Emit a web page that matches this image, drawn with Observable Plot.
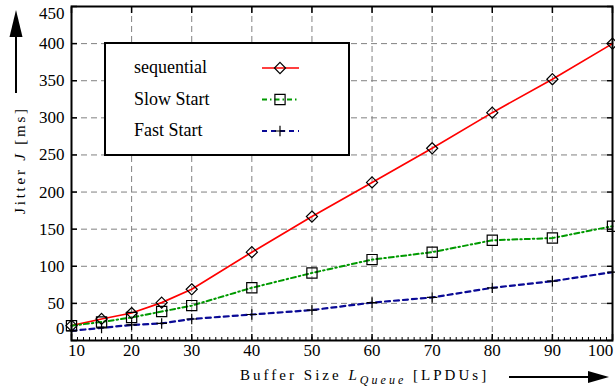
<!DOCTYPE html>
<html><head><meta charset="utf-8">
<script src="https://cdn.jsdelivr.net/npm/d3@7"></script>
<script src="https://cdn.jsdelivr.net/npm/@observablehq/plot@0.6"></script>
<style>html,body{margin:0;padding:0;background:#fff;}</style>
</head><body><div id="chart"></div>
<script>
// ---- data ----
const bufferSizes = [10, 15, 20, 25, 30, 40, 50, 60, 70, 80, 90, 100];
const sequential  = [20, 29, 37, 51, 69, 119, 167, 213, 259, 307, 352, 400];
const slowStart   = [20, 25, 31, 39, 47, 71, 91, 109, 119, 135, 138, 154];
const fastStart   = [13, 17, 21, 23, 29, 35, 41, 51, 58, 71, 80, 92];
const seriesNames = ["sequential", "Slow Start", "Fast Start"];
const xTicks = [10, 20, 30, 40, 50, 60, 70, 80, 90, 100];
const yTicks = [0, 50, 100, 150, 200, 250, 300, 350, 400, 450];
const xMinorTicks = d3.range(10, 101, 1);

// ---- styles ----
const styles = {
  "sequential": {stroke: "#ff0000", dash: null, width: 1.7, symbol: "diamond2", r: 5},
  "Slow Start": {stroke: "#009a00", dash: "5,3,1.5,3", width: 2, symbol: "square2", r: 6.5},
  "Fast Start": {stroke: "#0a0a96", dash: "5,4", width: 2.2, symbol: "plus", r: 3.5}
};
const seriesValues = {"sequential": sequential, "Slow Start": slowStart, "Fast Start": fastStart};
const rows = seriesNames.flatMap(name => bufferSizes.map((x, i) => ({series: name, x, y: seriesValues[name][i]})));

const serif = "'Liberation Serif', 'DejaVu Serif', serif";
const gridStyle = {stroke: "#808080", strokeOpacity: 1, strokeDasharray: "6,4", strokeWidth: 1};

const lineMarks = seriesNames.map(name => Plot.line(rows.filter(d => d.series === name), {
  x: "x", y: "y", stroke: styles[name].stroke, strokeWidth: styles[name].width,
  strokeDasharray: styles[name].dash
}));
const dotMarks = seriesNames.map(name => Plot.dot(rows.filter(d => d.series === name), {
  x: "x", y: "y", symbol: () => styles[name].symbol, r: styles[name].r,
  stroke: "black", strokeWidth: 1.2, fill: "none"
}));

const chart = Plot.plot({
  width: 615, height: 387,
  marginLeft: 71, marginRight: 3, marginTop: 6, marginBottom: 47,
  style: {fontFamily: serif, fontSize: "17px", color: "black", background: "white"},
  x: {domain: [10, 100]},
  y: {domain: [0, 450]},
  symbol: {type: "identity"},
  marks: [
    Plot.gridX(xTicks.filter(v => v > 10 && v < 100), gridStyle),
    Plot.gridY(yTicks.filter(v => v > 0 && v < 450), gridStyle),
    // inward ticks
    Plot.axisX(xMinorTicks, {anchor: "bottom", tickSize: 3, insetBottom: 3, fill: "none", label: null, strokeWidth: 1}),
    Plot.axisX(xTicks, {anchor: "bottom", tickSize: 6, insetBottom: 6, fill: "none", label: null, strokeWidth: 1.5}),
    Plot.axisX(xTicks, {anchor: "top", tickSize: 6, insetTop: 6, fill: "none", label: null, strokeWidth: 1.5}),
    Plot.axisY(yTicks, {anchor: "left", tickSize: 6, insetLeft: 6, fill: "none", label: null, strokeWidth: 1.5}),
    Plot.axisY(yTicks, {anchor: "right", tickSize: 6, insetRight: 6, fill: "none", label: null, strokeWidth: 1.5}),
    // tick labels
    Plot.axisX(xTicks.filter(v => v > 10 && v < 100), {anchor: "bottom", tickSize: 0, tickPadding: 3, label: null}),
    Plot.axisX([10], {anchor: "bottom", tickSize: 0, tickPadding: 3, dx: 5, label: null}),
    Plot.axisX([100], {anchor: "bottom", tickSize: 0, tickPadding: 3, dx: -12, label: null}),
    Plot.axisY(yTicks.filter(v => v > 0 && v < 450), {anchor: "left", tickSize: 0, tickPadding: 7, label: null}),
    Plot.axisY([450], {anchor: "left", tickSize: 0, tickPadding: 7, dy: 7, label: null}),
    Plot.axisY([0], {anchor: "left", tickSize: 0, tickPadding: 7, dy: -12, label: null}),
    ...lineMarks,
    ...dotMarks,
    Plot.frame({stroke: "black", strokeWidth: 2})
  ]
});
document.getElementById("chart").appendChild(chart);

// ---- annotations: axis titles, arrows, legend ----
const svg = d3.select(chart);

// x title
const xt = svg.append("text").attr("x", 240).attr("y", 380).attr("text-anchor", "start")
  .attr("font-family", serif).attr("font-size", 15).attr("fill", "black");
xt.append("tspan").text("Buffer Size ");
xt.append("tspan").attr("font-style", "italic").text("L");
xt.append("tspan").attr("font-style", "italic").attr("font-size", 12).attr("dy", 4).text("Queue");
xt.append("tspan").attr("dy", -4).text(" [LPDUs]");
{
  const len = xt.node().getComputedTextLength();
  const n = "Buffer Size LQueue [LPDUs]".length;
  xt.attr("letter-spacing", ((246 - len) / (n - 1)).toFixed(2));
}
// x arrow
svg.append("line").attr("x1", 509).attr("x2", 592).attr("y1", 377).attr("y2", 377)
  .attr("stroke", "black").attr("stroke-width", 2);
svg.append("path").attr("d", "M609,377L588,371L588,383Z").attr("fill", "black");

// y title
const yt = svg.append("text").attr("transform", "translate(25,160) rotate(-90)")
  .attr("text-anchor", "middle").attr("font-family", serif).attr("font-size", 15).attr("fill", "black");
yt.append("tspan").text("Jitter ");
yt.append("tspan").attr("font-style", "italic").text("J");
yt.append("tspan").text(" [ms]");
{
  const len = yt.node().getComputedTextLength();
  const n = "Jitter J [ms]".length;
  yt.attr("letter-spacing", ((105 - len) / (n - 1)).toFixed(2));
}
// y arrow
svg.append("line").attr("x1", 16).attr("x2", 16).attr("y1", 93).attr("y2", 32)
  .attr("stroke", "black").attr("stroke-width", 2);
svg.append("path").attr("d", "M16,10L9.5,37L22.5,37Z").attr("fill", "black");

// legend
const lg = svg.append("g");
lg.append("rect").attr("x", 105).attr("y", 43).attr("width", 244).attr("height", 112)
  .attr("fill", "white").attr("stroke", "black").attr("stroke-width", 2);
const symMap = {diamond2: d3.symbolDiamond2, square2: d3.symbolSquare2, plus: d3.symbolPlus};
seriesNames.forEach((name, i) => {
  const s = styles[name];
  const cy = 68 + i * 31.5;
  lg.append("text").attr("x", 134).attr("y", cy + 5).attr("text-anchor", "start")
    .attr("font-family", serif).attr("font-size", 18).attr("fill", "black").text(name);
  lg.append("line").attr("x1", 262).attr("x2", 299).attr("y1", cy).attr("y2", cy)
    .attr("stroke", s.stroke).attr("stroke-width", s.width)
    .attr("stroke-dasharray", s.dash);
  lg.append("path").attr("transform", `translate(280,${cy})`)
    .attr("d", d3.symbol(symMap[s.symbol], Math.PI * s.r * s.r)())
    .attr("fill", "none").attr("stroke", "black").attr("stroke-width", 1.2);
});
</script>
</body></html>
